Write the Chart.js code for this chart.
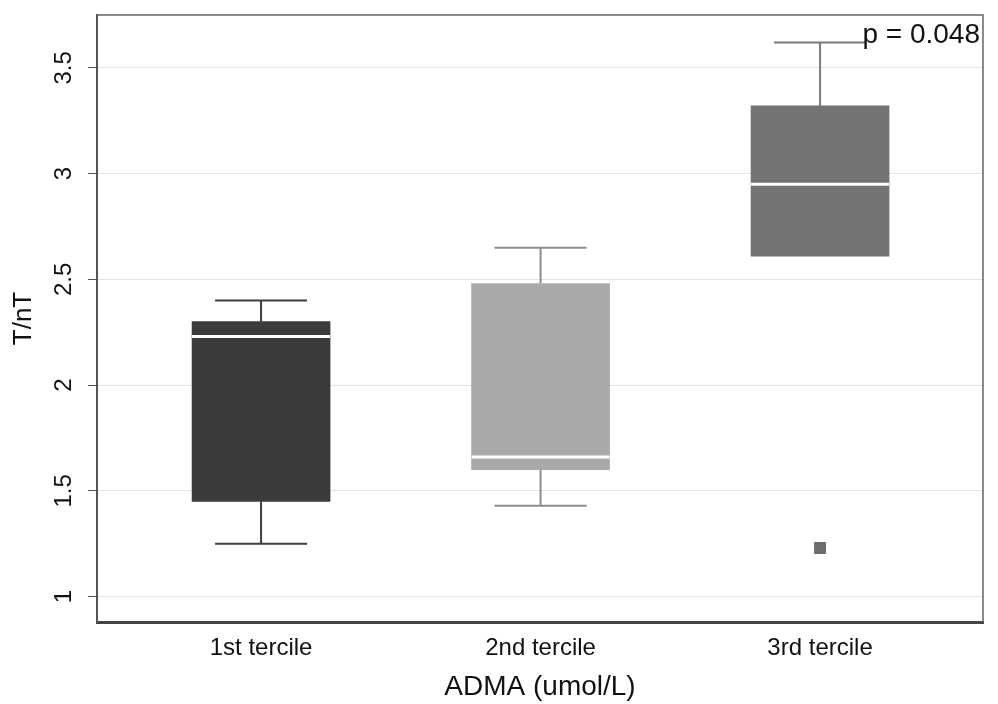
<!DOCTYPE html>
<html lang="en">
  <head>
    <meta charset="utf-8" />
    <title>T/nT by ADMA tercile</title>
    <style>
      * {
        margin: 0;
        padding: 0;
      }
      body {
        background: #fff;
      }
    </style>
  </head>
  <body>
    <canvas id="myChart" width="998" height="704"></canvas>
    <script src="https://cdn.jsdelivr.net/npm/chart.js/dist/chart.umd.min.js"></script>
    <script>
      const categories = ["1st tercile", "2nd tercile", "3rd tercile"];
      const whiskerLow = [1.25, 1.43, 2.61];
      const q1 = [1.45, 1.6, 2.61];
      const median = [2.23, 1.66, 2.95];
      const q3 = [2.3, 2.48, 3.32];
      const whiskerHigh = [2.4, 2.65, 3.62];
      const outliers = [[], [], [1.23]];
      const yTicks = [1, 1.5, 2, 2.5, 3, 3.5];
      const pLabel = "p = 0.048";

      const boxColors = ["#3b3b3b", "#a9a9a9", "#737373"];
      const whiskerColors = ["#3f3f3f", "#8c8c8c", "#7a7a7a"];
      const FONT = "'Liberation Sans', Arial, sans-serif";

      const outlierPoints = [];
      outliers.forEach((vals, i) => {
        vals.forEach((v) => outlierPoints.push({ x: i + 1, y: v }));
      });

      // whiskers, caps, medians, rotated y labels and p value
      const boxExtras = {
        id: "boxExtras",
        afterDatasetsDraw(chart) {
          const { ctx } = chart;
          const x = chart.scales.x;
          const y = chart.scales.y;
          const capHalf = 46;
          const boxHalf = 69;
          ctx.save();
          categories.forEach((c, i) => {
            const cx = x.getPixelForValue(i + 1);
            ctx.strokeStyle = whiskerColors[i];
            ctx.lineWidth = 2;
            ctx.beginPath();
            if (whiskerHigh[i] > q3[i]) {
              ctx.moveTo(cx, y.getPixelForValue(q3[i]));
              ctx.lineTo(cx, y.getPixelForValue(whiskerHigh[i]));
              ctx.moveTo(cx - capHalf, y.getPixelForValue(whiskerHigh[i]));
              ctx.lineTo(cx + capHalf, y.getPixelForValue(whiskerHigh[i]));
            }
            if (whiskerLow[i] < q1[i]) {
              ctx.moveTo(cx, y.getPixelForValue(q1[i]));
              ctx.lineTo(cx, y.getPixelForValue(whiskerLow[i]));
              ctx.moveTo(cx - capHalf, y.getPixelForValue(whiskerLow[i]));
              ctx.lineTo(cx + capHalf, y.getPixelForValue(whiskerLow[i]));
            }
            ctx.stroke();

            ctx.strokeStyle = "#ffffff";
            ctx.lineWidth = 3;
            ctx.beginPath();
            ctx.moveTo(cx - boxHalf, y.getPixelForValue(median[i]));
            ctx.lineTo(cx + boxHalf, y.getPixelForValue(median[i]));
            ctx.stroke();
          });
          ctx.restore();
        },
        afterDraw(chart) {
          const { ctx, chartArea } = chart;
          const y = chart.scales.y;
          ctx.save();
          // frame top/right
          ctx.strokeStyle = "#666";
          ctx.lineWidth = 1.5;
          ctx.beginPath();
          ctx.moveTo(chartArea.left, chartArea.top);
          ctx.lineTo(chartArea.right, chartArea.top);
          ctx.lineTo(chartArea.right, chartArea.bottom);
          ctx.stroke();

          ctx.fillStyle = "#111";
          ctx.font = "24px " + FONT;
          ctx.textAlign = "center";
          ctx.textBaseline = "middle";
          y.ticks.forEach((t) => {
            ctx.save();
            ctx.translate(64, y.getPixelForValue(t.value));
            ctx.rotate(-Math.PI / 2);
            ctx.fillText(String(t.value), 0, 0);
            ctx.restore();
          });

          ctx.font = "28px " + FONT;
          ctx.textAlign = "right";
          ctx.fillStyle = "#111";
          ctx.fillText(pLabel, chartArea.right - 3, chartArea.top + 20);
          ctx.restore();
        },
      };

      const data = {
        datasets: [
          {
            type: "bar",
            data: categories.map((c, i) => ({ x: i + 1, y: [q1[i], q3[i]] })),
            backgroundColor: boxColors,
            borderWidth: 0,
            borderSkipped: false,
            barThickness: 138,
            order: 2,
          },
          {
            type: "scatter",
            data: outlierPoints,
            pointStyle: "rect",
            pointRadius: 8.5,
            backgroundColor: "#6e6e6e",
            borderWidth: 0,
            order: 1,
          },
        ],
      };

      const config = {
        type: "bar",
        data,
        options: {
          responsive: false,
          animation: false,
          layout: {
            padding: { top: 15, right: 15, left: 0, bottom: 0 },
          },
          plugins: {
            legend: { display: false },
            tooltip: { enabled: false },
          },
          scales: {
            x: {
              type: "linear",
              offset: false,
              min: 0.413,
              max: 3.583,
              grid: { display: false, drawTicks: false },
              border: { display: true, color: "#444", width: 3 },
              afterBuildTicks(scale) {
                scale.ticks = categories.map((c, i) => ({ value: i + 1 }));
              },
              ticks: {
                padding: 12,
                color: "#111",
                font: { family: FONT, size: 24 },
                callback: (v) => categories[v - 1] || "",
              },
              title: {
                display: true,
                text: "ADMA (umol/L)",
                color: "#111",
                font: { family: FONT, size: 28 },
                padding: { top: 0, bottom: 0 },
              },
              afterFit(scale) {
                scale.height = 82;
              },
            },
            y: {
              min: 0.88,
              max: 3.75,
              afterBuildTicks(scale) {
                scale.ticks = yTicks.map((v) => ({ value: v }));
              },
              grid: {
                color: "#e3e3e3",
                lineWidth: 1,
                tickColor: "#555",
                tickLength: 9,
              },
              border: { display: true, color: "#555", width: 2 },
              ticks: {
                // labels are drawn rotated by the plugin
                color: "transparent",
                font: { family: FONT, size: 8 },
              },
              title: {
                display: true,
                text: "T/nT",
                color: "#111",
                font: { family: FONT, size: 26 },
                padding: { top: 8 },
              },
              afterFit(scale) {
                scale.width = 97;
              },
            },
          },
        },
        plugins: [boxExtras],
      };

      const myChart = new Chart(document.getElementById("myChart"), config);
    </script>
  </body>
</html>
